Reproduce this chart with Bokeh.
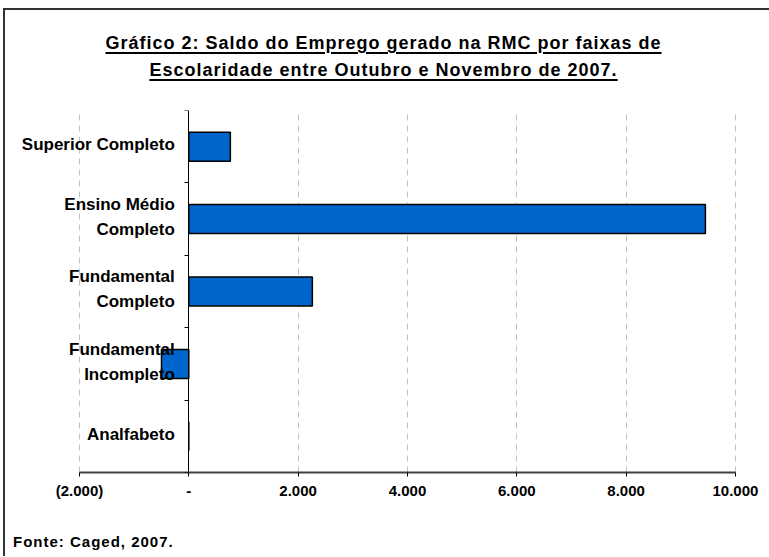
from bokeh.plotting import figure
from bokeh.models import Div, FixedTicker, ColumnDataSource, LinearAxis
from bokeh.layouts import column
from bokeh.embed import file_html
from bokeh.resources import INLINE

# ---- data ----
categories = ["Superior Completo", "Ensino Médio\nCompleto", "Fundamental\nCompleto",
              "Fundamental\nIncompleto", "Analfabeto"]
saldo = [760, 9450, 2260, -500, 0]
tick_values = [-2000, 0, 2000, 4000, 6000, 8000, 10000]
tick_labels = ["(2.000)", "-", "2.000", "4.000", "6.000", "8.000", "10.000"]
title_lines = ["Gráfico 2: Saldo do Emprego gerado na RMC por faixas de",
               "Escolaridade entre Outubro e Novembro de 2007."]
source_note = "Fonte: Caged, 2007."

FONT = "Liberation Sans"
n = len(categories)
ypos = [n - i - 0.5 for i in range(n)]
label_pos = [y + 0.03 for y in ypos]
src = ColumnDataSource(dict(y=ypos, v=saldo))

W = 757
u_style = "text-decoration:underline;text-decoration-thickness:2px;text-underline-offset:3px;"
title_html = (
    f'<div style="font-family:\'{FONT}\';font-weight:bold;font-size:18px;letter-spacing:1px;'
    f'text-align:center;line-height:27px;padding-top:15px;color:black;width:{W - 10}px;">'
    + "<br>".join(f'<span style="{u_style}">{t}</span>' for t in title_lines)
    + "</div>"
)
title_div = Div(text=title_html, width=W, height=74)

# frame widened to the left so the category labels (drawn at zero) are not clipped
p = figure(width=W, height=418, x_range=(-3207, 10147), y_range=(0, n),
           output_backend="svg", toolbar_location=None,
           min_border_left=8, min_border_right=19, min_border_top=16, min_border_bottom=40)
p.outline_line_color = None
p.background_fill_color = "white"
p.border_fill_color = "white"

p.hbar(y="y", left=0, right="v", height=0.4, source=src,
       fill_color="#0066CC", line_color="black", line_width=1.5)

# x axis
xa = p.xaxis[0]
xa.bounds = (tick_values[0], tick_values[-1])
xa.ticker = FixedTicker(ticks=tick_values)
xa.major_label_overrides = {v: l for v, l in zip(tick_values, tick_labels)}
xa.major_label_text_font = FONT
xa.major_label_text_font_style = "bold"
xa.major_label_text_font_size = "15px"
xa.major_label_text_color = "black"
xa.major_label_standoff = 5
xa.axis_line_color = "#404040"
xa.axis_line_width = 2
xa.major_tick_line_color = "black"
xa.major_tick_in = 0
xa.major_tick_out = 4
xa.minor_tick_line_color = None

# y axis line + boundary ticks placed at zero
ya = p.yaxis[0]
ya.fixed_location = 0
ya.ticker = FixedTicker(ticks=list(range(n + 1)))
ya.major_label_text_font_size = "0px"
ya.major_label_text_color = None
ya.axis_line_color = "black"
ya.axis_line_width = 1
ya.major_tick_line_color = "black"
ya.major_tick_in = 0
ya.major_tick_out = 4
ya.minor_tick_line_color = None

# category labels: second axis at zero, labels at band centres
la = LinearAxis(fixed_location=0, ticker=FixedTicker(ticks=label_pos),
                major_label_overrides={y: c for y, c in zip(label_pos, categories)},
                axis_line_color=None, major_tick_line_color=None, minor_tick_line_color=None,
                major_label_standoff=8, major_label_text_font=FONT,
                major_label_text_font_style="bold", major_label_text_font_size="17px",
                major_label_text_color="black", major_label_text_line_height=1.3,
                major_label_text_align="right")
p.add_layout(la, "left")

p.xgrid.ticker = FixedTicker(ticks=tick_values)
p.xgrid.grid_line_color = "#c0c0c0"
p.xgrid.grid_line_dash = "6 5"
p.ygrid.grid_line_color = None

footer_html = (
    f'<div style="font-family:\'{FONT}\';font-weight:bold;font-size:15px;letter-spacing:1px;'
    f'padding-top:14px;padding-left:3px;color:black;">{source_note}</div>'
)
footer_div = Div(text=footer_html, width=W, height=34)

layout = column(title_div, p, footer_div,
                styles={"border-left": "2px solid #333333", "border-top": "2px solid #333333",
                        "margin-left": "3px", "margin-top": "8px", "background": "white"})

open("out.html", "w").write(file_html(layout, INLINE))
